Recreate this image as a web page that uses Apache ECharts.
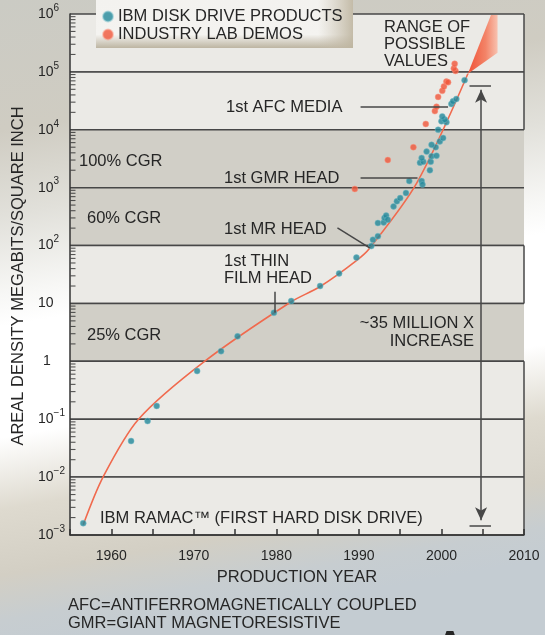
<!DOCTYPE html>
<html>
<head>
<meta charset="utf-8">
<script src="https://cdn.jsdelivr.net/npm/echarts@6/dist/echarts.min.js"></script>
<style>
html, body { margin: 0; padding: 0; }
#chart { width: 545px; height: 635px; }
</style>
</head>
<body>
<div id="chart"></div>
<script>
// [year, megabits per square inch]
var ibmProducts = [
  [1956.6, 0.0016], [1962.4, 0.042], [1964.4, 0.093], [1965.5, 0.17], [1970.4, 0.68],
  [1973.3, 1.5], [1975.3, 2.7], [1979.7, 6.9], [1981.8, 11], [1985.3, 20],
  [1987.6, 33], [1989.7, 62], [1991.5, 98], [1991.7, 126], [1992.3, 145],
  [1992.3, 245], [1993.0, 250], [1993.1, 300], [1993.3, 330], [1993.5, 280],
  [1994.2, 475], [1994.6, 580], [1995.0, 660], [1995.7, 810], [1996.1, 1300],
  [1997.6, 1300], [1997.7, 1130], [1998.6, 2000], [1997.4, 2700], [1997.8, 2800],
  [1998.7, 2800], [1997.6, 3250], [1998.8, 3500], [1999.4, 3560], [1998.2, 4200],
  [1999.3, 5000], [1998.8, 5500], [1999.8, 6300], [2000.2, 7200], [1999.6, 10000],
  [2000.0, 14000], [2000.6, 13500], [2000.4, 15000], [2000.1, 17000], [2001.2, 28000],
  [2001.4, 31000], [2001.8, 34000], [2002.8, 72000]
];
var labDemos = [
  [1989.5, 950], [1993.5, 3000], [1996.6, 5000], [1998.1, 12600], [1999.2, 21000],
  [1999.4, 25000], [1999.6, 37000], [2000.1, 47000], [2000.3, 56000], [2000.6, 68000],
  [2000.8, 66000], [2001.7, 104000], [2001.5, 115000], [2001.6, 138000]
];
var trendCurve = [
  [1956.6, 0.0015], [1959.0, 0.01], [1963.3, 0.1], [1971.3, 1],
  [1981.7, 10.5], [1985.3, 19.6], [1989.7, 55], [1991.3, 90], [1997.0, 1200],
  [2003.2, 93000]
];
var rangeFan = [[2003.2, 93000], [2006.0, 960000], [2006.8, 960000], [2006.8, 214000]];
// [low, high, shaded]
var decadeBands = [
  [1e5, 1e6, 0], [1e4, 1e5, 0], [1e3, 1e4, 1], [1e2, 1e3, 1], [10, 1e2, 0],
  [1, 10, 1], [0.1, 1, 0], [0.01, 0.1, 0], [0.001, 0.01, 0]
];
var decadeStarts = [0.001, 0.01, 0.1, 1, 10, 100, 1000, 10000, 100000];
var minorSteps = [2, 3, 4, 5, 6, 7, 8, 9];
var yearMin = 1955, yearMax = 2010;

var minorTicks = [];
decadeStarts.forEach(function (d) {
  minorSteps.forEach(function (m) { minorTicks.push([yearMin, d * m]); });
});

var FONT = 'Liberation Sans, Arial, sans-serif';
var INK = '#262626';
var LINE = '#474747';

function txt(text, x, y, opts) {
  opts = opts || {};
  return {
    type: 'text', x: x, y: y, z: 20, rotation: opts.rotation || 0,
    style: {
      text: text, fontSize: opts.size || 16.5, fontFamily: FONT, fill: INK,
      align: opts.align || 'left', verticalAlign: 'middle', lineHeight: opts.lh || 17,
      fontWeight: opts.weight || 'normal'
    }
  };
}

var chart = echarts.init(document.getElementById('chart'));
var option = {
  animation: false,
  backgroundColor: new echarts.graphic.LinearGradient(0, 0, 0.2, 1, [
    { offset: 0, color: '#cbcbc4' },
    { offset: 0.2, color: '#cfccc2' },
    { offset: 0.33, color: '#e1e0da' },
    { offset: 0.45, color: '#f7f7f5' },
    { offset: 0.5, color: '#ffffff' },
    { offset: 0.67, color: '#ffffff' },
    { offset: 0.78, color: '#dedacf' },
    { offset: 0.88, color: '#d3cfc4' },
    { offset: 0.95, color: '#c7cdd0' },
    { offset: 1, color: '#c4ccd2' }
  ]),
  grid: { left: 70, right: 21, top: 14, bottom: 100 },
  legend: {
    z: 30, orient: 'vertical', left: 97, top: 3, itemGap: 1,
    itemWidth: 10, itemHeight: 10, icon: 'circle',
    data: ['IBM DISK DRIVE PRODUCTS', 'INDUSTRY LAB DEMOS'],
    textStyle: { fontSize: 16.5, fontFamily: FONT, color: INK, lineHeight: 14 }
  },
  xAxis: {
    type: 'value', min: yearMin, max: yearMax, interval: 5, z: 5,
    name: 'PRODUCTION YEAR', nameLocation: 'middle', nameGap: 34,
    nameTextStyle: { fontSize: 16.5, fontFamily: FONT, color: INK },
    axisLine: { lineStyle: { color: '#333', width: 1.5 } },
    axisTick: { inside: true, length: 6, lineStyle: { color: '#333', width: 1.5 } },
    splitLine: { show: false },
    axisLabel: {
      margin: 14, fontSize: 14, fontFamily: FONT, color: INK,
      showMinLabel: true, showMaxLabel: true,
      formatter: function (v) { return v % 10 === 0 ? String(v) : ''; }
    }
  },
  yAxis: {
    type: 'log', logBase: 10, min: 0.001, max: 1e6, splitNumber: 10, z: 5,
    axisLine: { show: true, lineStyle: { color: '#333', width: 1.5 } },
    axisTick: { show: false },
    splitLine: { show: false },
    axisLabel: {
      margin: 32, align: 'left', color: INK,
      formatter: function (v) {
        var e = Math.round(Math.log10(v));
        if (e === 0) return '{o|1}';
        if (e === 1) return '{b|10}';
        return '{b|10}{s|' + (e < 0 ? '\u2212' + (-e) : e) + '}';
      },
      rich: {
        b: { fontSize: 14, fontFamily: FONT, color: INK, lineHeight: 22, verticalAlign: 'middle' },
        o: { fontSize: 14, fontFamily: FONT, color: INK, padding: [0, 0, 0, 5] },
        s: { fontSize: 10, fontFamily: FONT, color: INK, lineHeight: 12, verticalAlign: 'top' }
      }
    }
  },
  graphic: [
    {
      type: 'rect', z: 25, shape: { x: 96, y: 0, width: 257, height: 48 },
      style: {
        fill: new echarts.graphic.LinearGradient(0, 0, 0, 1, [
          { offset: 0, color: '#f3f2ef' },
          { offset: 0.72, color: '#f4f3f0' },
          { offset: 1, color: '#bdb5a2' }
        ])
      }
    },
    {
      type: 'rect', z: 26, shape: { x: 318, y: 0, width: 35, height: 48 },
      style: {
        fill: new echarts.graphic.LinearGradient(0, 0, 1, 0, [
          { offset: 0, color: 'rgba(200,192,174,0)' },
          { offset: 1, color: 'rgba(190,181,160,0.9)' }
        ])
      }
    },
    txt('AREAL DENSITY MEGABITS/SQUARE INCH', 18, 276, { align: 'center', rotation: Math.PI / 2 }),
    txt('RANGE OF\nPOSSIBLE\nVALUES', 384, 44),
    txt('1st AFC MEDIA', 226, 107),
    txt('100% CGR', 79, 161),
    txt('1st GMR HEAD', 224, 178),
    txt('60% CGR', 87, 218),
    txt('1st MR HEAD', 224, 229),
    txt('1st THIN\nFILM HEAD', 224, 270),
    txt('25% CGR', 87, 335),
    txt('~35 MILLION X\nINCREASE', 474, 332, { align: 'right', lh: 18 }),
    txt('IBM RAMAC\u2122 (FIRST HARD DISK DRIVE)', 100, 518),
    txt('AFC=ANTIFERROMAGNETICALLY COUPLED', 68, 605),
    txt('GMR=GIANT MAGNETORESISTIVE', 68, 623),
    txt('A', 450, 648, { align: 'center', size: 40, weight: 'bold' })
  ],
  series: [
    {
      name: 'bands', type: 'custom', z: 1, silent: true,
      data: decadeBands,
      renderItem: function (params, api) {
        var lo = api.value(0), hi = api.value(1), dark = api.value(2);
        var tl = api.coord([yearMin, hi]), br = api.coord([yearMax, lo]);
        return {
          type: 'group',
          children: [
            { type: 'rect', shape: { x: tl[0], y: tl[1], width: br[0] - tl[0], height: br[1] - tl[1] },
              style: { fill: dark ? '#d1cfc7' : '#ebeae6' } },
            { type: 'line', shape: { x1: tl[0], y1: tl[1], x2: br[0], y2: tl[1] },
              style: { stroke: LINE, lineWidth: 1.5 } },
            { type: 'line', shape: { x1: tl[0], y1: br[1], x2: br[0], y2: br[1] },
              style: { stroke: LINE, lineWidth: 1.5 } },
            { type: 'line', shape: { x1: br[0], y1: tl[1], x2: br[0], y2: br[1] },
              style: { stroke: dark ? 'rgba(0,0,0,0)' : LINE, lineWidth: 1.5 } }
          ]
        };
      }
    },
    {
      name: 'minor ticks', type: 'scatter', z: 6, silent: true, clip: false,
      data: minorTicks,
      symbol: 'rect', symbolSize: [5, 1.1], symbolOffset: [3, 0],
      itemStyle: { color: '#2e2e2e' }
    },
    {
      name: 'range fan', type: 'custom', z: 3, silent: true,
      data: [0],
      renderItem: function (params, api) {
        var pts = rangeFan.map(function (d) { return api.coord(d); });
        return {
          type: 'polygon', shape: { points: pts },
          style: {
            fill: new echarts.graphic.LinearGradient(0, 0, 1, 0, [
              { offset: 0, color: '#ef5237' },
              { offset: 0.6, color: '#f38468' },
              { offset: 1, color: '#f8c2b0' }
            ])
          }
        };
      }
    },
    {
      name: 'trend', type: 'line', z: 3, smooth: 0.3, showSymbol: false, silent: true,
      data: trendCurve,
      lineStyle: { color: '#f06a4e', width: 1.6 },
      markLine: {
        silent: true, symbol: 'none', label: { show: false },
        lineStyle: { color: LINE, width: 1.5, type: 'solid' },
        data: [
          [{ coord: [1990.2, 25000] }, { coord: [2000.8, 25000] }],
          [{ coord: [1990.2, 1480] }, { coord: [1997.1, 1480] }],
          [{ coord: [1987.4, 202] }, { coord: [1991.3, 91] }],
          [{ coord: [1979.8, 16] }, { coord: [1979.8, 7.0] }],
          [{ coord: [2003.4, 57000] }, { coord: [2006.0, 57000] }],
          [{ coord: [2003.4, 0.00143] }, { coord: [2006.0, 0.00143] }],
          [{ coord: [2004.8, 0.0018], symbol: 'arrow', symbolSize: [9, 13] },
           { coord: [2004.8, 49000], symbol: 'arrow', symbolSize: [9, 13] }]
        ]
      }
    },
    {
      name: 'IBM DISK DRIVE PRODUCTS', type: 'scatter', z: 4, symbolSize: 6,
      data: ibmProducts,
      itemStyle: { color: '#22879a', borderColor: 'rgba(120,190,200,0.6)', borderWidth: 1 }
    },
    {
      name: 'INDUSTRY LAB DEMOS', type: 'scatter', z: 4, symbolSize: 6,
      data: labDemos,
      itemStyle: { color: '#f0553a', borderColor: 'rgba(250,150,130,0.6)', borderWidth: 1 }
    }
  ]
};
chart.setOption(option);
</script>
</body>
</html>
